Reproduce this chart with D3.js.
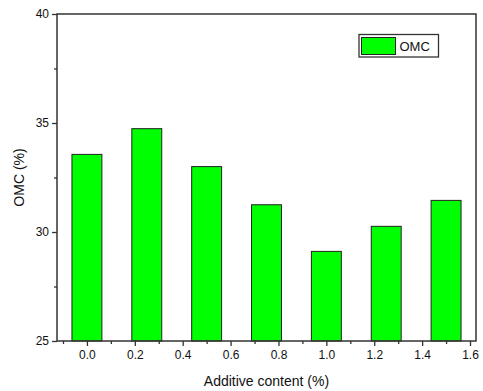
<!DOCTYPE html>
<html><head><meta charset="utf-8">
<script src="https://cdn.jsdelivr.net/npm/d3@7"></script>
<style>body{margin:0;background:#fff}svg{display:block;font-family:"Liberation Sans",Arial,sans-serif}</style>
</head><body><script>
const categories = [0, 0.25, 0.5, 0.75, 1.0, 1.25, 1.5];
const omc = [33.56, 34.74, 33.0, 31.25, 29.11, 30.26, 31.45];
const xTicks = [0.0, 0.2, 0.4, 0.6, 0.8, 1.0, 1.2, 1.4, 1.6];
const yTicks = [25, 30, 35, 40];
const seriesName = "OMC";

const W = 483, H = 391;
const m = {l: 57, t: 14, r: 476, b: 341};
const svg = d3.select("body").append("svg").attr("width", W).attr("height", H);
const x = d3.scaleLinear().domain([-0.125, 1.625]).range([m.l, m.r]);
const y = d3.scaleLinear().domain([25, 40]).range([m.b, m.t]);
const barW = x(0.125) - x(0);

svg.append("g").selectAll("rect").data(categories).join("rect")
  .attr("x", (d) => x(d) - barW / 2).attr("y", (d, i) => y(omc[i]))
  .attr("width", barW).attr("height", (d, i) => y(25) - y(omc[i]))
  .attr("fill", "#00ff00").attr("stroke", "#222").attr("stroke-width", 1);

// frame
svg.append("rect").attr("x", m.l).attr("y", m.t).attr("width", m.r - m.l).attr("height", m.b - m.t)
  .attr("fill", "none").attr("stroke", "#333").attr("stroke-width", 1.5);

const fmt = d3.format(".1f");
const xAxis = svg.append("g").attr("transform", `translate(0,${m.b})`)
  .call(d3.axisBottom(x).tickValues(xTicks).tickFormat(fmt).tickSize(5).tickSizeOuter(0).tickPadding(4));
const xMinor = svg.append("g").attr("transform", `translate(0,${m.b})`)
  .call(d3.axisBottom(x).tickValues(d3.range(-0.1, 1.65, 0.2)).tickFormat("").tickSize(3).tickSizeOuter(0));
const yAxis = svg.append("g").attr("transform", `translate(${m.l},0)`)
  .call(d3.axisLeft(y).tickValues(yTicks).tickSize(5).tickSizeOuter(0).tickPadding(3));
const yMinor = svg.append("g").attr("transform", `translate(${m.l},0)`)
  .call(d3.axisLeft(y).tickValues([27.5, 32.5, 37.5]).tickFormat("").tickSize(3).tickSizeOuter(0));
[xAxis, xMinor, yAxis, yMinor].forEach(g => {
  g.select(".domain").remove();
  g.selectAll("line").attr("stroke", "#333").attr("stroke-width", 1.3);
  g.selectAll("text").attr("font-size", 12).attr("fill", "#111").attr("font-family", "Liberation Sans, Arial, sans-serif");
});

svg.append("text").attr("x", (m.l + m.r) / 2).attr("y", 386).attr("text-anchor", "middle")
  .attr("font-size", 14).attr("fill", "#111").text("Additive content (%)");
svg.append("text").attr("transform", `translate(24,${(m.t + m.b) / 2}) rotate(-90)`).attr("text-anchor", "middle")
  .attr("font-size", 14).attr("fill", "#111").text("OMC (%)");

// legend
const lg = svg.append("g");
lg.append("rect").attr("x", 359).attr("y", 34.5).attr("width", 79.5).attr("height", 22.5)
  .attr("fill", "#fff").attr("stroke", "#333").attr("stroke-width", 1.3);
lg.append("rect").attr("x", 361.5).attr("y", 37.5).attr("width", 34).attr("height", 17)
  .attr("fill", "#00ff00").attr("stroke", "#222").attr("stroke-width", 1);
lg.append("text").attr("x", 399.5).attr("y", 50.5).attr("font-size", 13).attr("fill", "#111").text(seriesName);
</script></body></html>
